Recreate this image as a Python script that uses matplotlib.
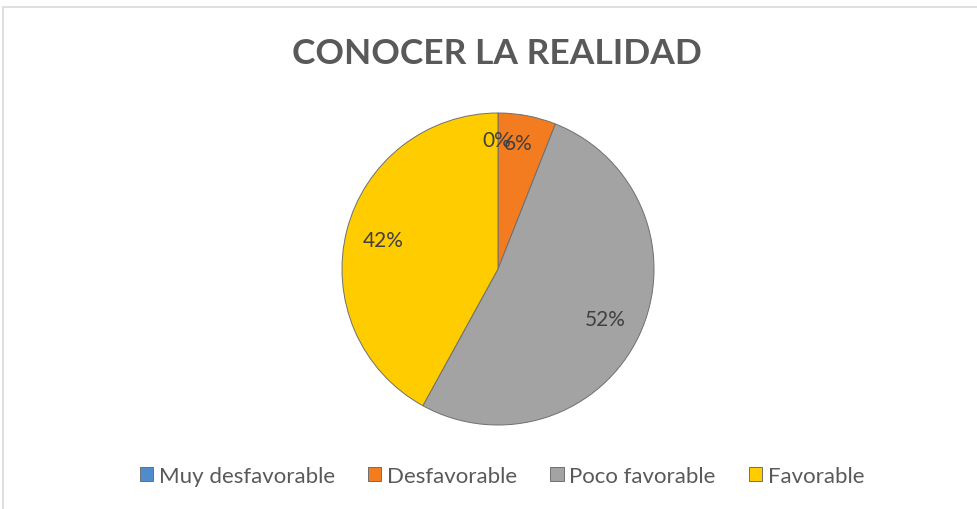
import matplotlib.pyplot as plt
import numpy as np
from matplotlib.patches import Rectangle

# data
categories = ["Muy desfavorable", "Desfavorable", "Poco favorable", "Favorable"]
values = [0, 6, 52, 42]
colors = ["#4F8CCB", "#F47C20", "#A3A3A3", "#FFCC00"]

W, H = 977, 510
fig = plt.figure(figsize=(W / 100, H / 100), dpi=100)
fig.patch.set_facecolor("white")

# thin gray frame of the chart area (runs off right and bottom)
fig.patches.append(Rectangle((3 / W, -0.02), 1.0, 1 - 8 / H + 0.02,
                             transform=fig.transFigure, fill=False,
                             edgecolor="#D9D9D9", linewidth=1.2))

# pie axes, centre ~ (498, 270) px, radius ~156 px
cx, cy, r = 498, 270, 156
ax = fig.add_axes([(cx - r) / W, (H - cy - r) / H, 2 * r / W, 2 * r / H])
wedges, texts, autotexts = ax.pie(
    values, colors=colors, startangle=90, counterclock=False,
    autopct=lambda p: f"{p:.0f}%", pctdistance=0.76,
    wedgeprops=dict(edgecolor="#6F6F6F", linewidth=0.7),
    textprops=dict(color="#404040", fontsize=15, family="Lato"))
ax.set_xlim(-1, 1)
ax.set_ylim(-1, 1)
ax.set_aspect("equal")

# small slices: Excel put their labels a bit further out
autotexts[0].set_position((-0.01, 0.83))
autotexts[1].set_position((0.13, 0.81))

fig.text(497 / W, 1 - 54 / H, "CONOCER LA REALIDAD", ha="center", va="center",
         fontsize=25.5, fontweight="bold", color="#595959", family="Lato")

fig.legend(wedges, categories, loc="center", bbox_to_anchor=(502 / W, 1 - 477 / H),
           ncol=4, frameon=False, handlelength=0.6, handleheight=0.6,
           handletextpad=0.25, columnspacing=1.5,
           prop=dict(family="Lato", size=16), labelcolor="#595959")

fig.savefig("out.png", dpi=100)
